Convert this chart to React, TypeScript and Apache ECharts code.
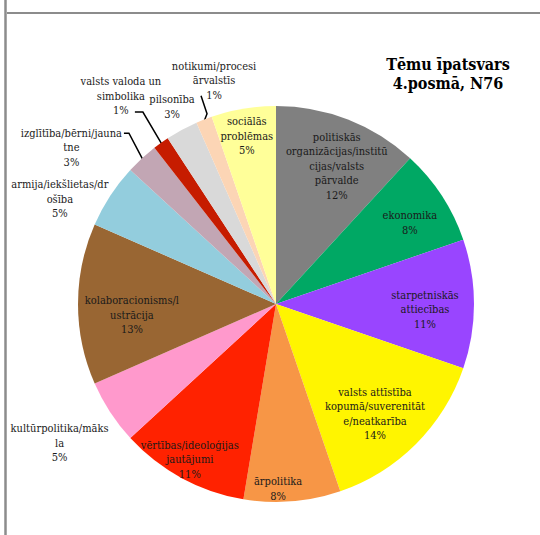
import React, { useEffect, useRef } from 'react';
import * as echarts from 'echarts';

const categories = [
  'politiskās organizācijas/institūcijas/valsts pārvalde',
  'ekonomika',
  'starpetniskās attiecības',
  'valsts attīstība kopumā/suverenitāte/neatkarība',
  'ārpolitika',
  'vērtības/ideoloģijas jautājumi',
  'kultūrpolitika/māksla',
  'kolaboracionisms/ilustrācija',
  'armija/iekšlietas/drošība',
  'izglītība/bērni/jaunatne',
  'valsts valoda un simbolika',
  'pilsonība',
  'notikumi/procesi ārvalstīs',
  'sociālās problēmas',
];
const counts = [9, 6, 8, 11, 6, 8, 4, 10, 4, 2, 1, 2, 1, 4];

const labelTexts = [
  'politiskās\norganizācijas/institū\ncijas/valsts\npārvalde',
  'ekonomika',
  'starpetniskās\nattiecības',
  'valsts attīstība\nkopumā/suverenitāt\ne/neatkarība',
  'ārpolitika',
  'vērtības/ideoloģijas\njautājumi',
  'kultūrpolitika/māks\nla',
  'kolaboracionisms/l\nustrācija',
  'armija/iekšlietas/dr\nošība',
  'izglītība/bērni/jauna\ntne',
  'valsts valoda un\nsimbolika',
  'pilsonība',
  'notikumi/procesi\nārvalstīs',
  'sociālās\nproblēmas',
];

const titleLines = ['Tēmu īpatsvars', '4.posmā, N76'];

const colors = [
  '#808080', '#00A864', '#9945FF', '#FFF500', '#F79646', '#FF2200', '#FF99CC',
  '#996633', '#93CDDD', '#C2A6B4', '#C61C00', '#D9D9D9', '#FCD5B5', '#FFFF99',
];

const labelRadius = [0.76, 0.79, 0.753, 0.747, 0.934, 0.9, 1.3, 0.73, 1.213, 1.3, 1.31, 1.125, 1.17, 0.86];
const labelShift = [2.5, 2, 2.3, 3, 4.1, 0.5, 0.4, -4.4, -7.3, -10, -1.2, 0.6, 5.8, -0.4];
const leaderEnd: (number[] | null)[] = [null, null, null, null, null, null, null, null, null, [52.5, -14.5], [14, 16], null, [-13, 15], null];
const leaderElbow: (number[] | null)[] = [null, null, null, null, null, null, null, null, null, [5, 0], [8, 0], null, [6, 18], null];

const CX = 276;
const CY = 304;
const R = 198;
const FONT = 'DejaVu Serif Condensed';

export default function App() {
  const ref = useRef<HTMLDivElement>(null);
  useEffect(() => {
    const chart = echarts.init(ref.current!, null, { renderer: 'svg' });
    const total = counts.reduce((a, b) => a + b, 0);
    const mids: number[] = [];
    let acc = 0;
    counts.forEach((c) => {
      mids.push(((acc + c / 2) / total) * 360);
      acc += c;
    });
    const polar = (deg: number, r: number) => {
      const a = (deg * Math.PI) / 180;
      return [CX + r * Math.sin(a), CY - r * Math.cos(a)];
    };

    chart.setOption({
      animation: false,
      textStyle: { fontFamily: FONT },
      graphic: [
        {
          type: 'line',
          shape: { x1: 5.5, y1: 0, x2: 5.5, y2: 535 },
          style: { stroke: '#8c8c8c', lineWidth: 2.5 },
          silent: true,
        },
        {
          type: 'line',
          shape: { x1: 7, y1: 13, x2: 540, y2: 13 },
          style: { stroke: '#8c8c8c', lineWidth: 2 },
          silent: true,
        },
        {
          type: 'text',
          x: 448,
          y: 73.5,
          style: {
            text: titleLines.join('\n'),
            font: 'bold 16px ' + FONT,
            lineHeight: 19,
            align: 'center',
            verticalAlign: 'middle',
            fill: '#000',
          },
        },
      ],
      series: [
        {
          type: 'pie',
          center: [CX, CY],
          radius: R,
          startAngle: 90,
          clockwise: true,
          avoidLabelOverlap: false,
          emphasis: { disabled: true },
          itemStyle: { borderWidth: 0 },
          label: {
            show: true,
            position: 'inside',
            formatter: (p: any) =>
              labelTexts[p.dataIndex] + '\n' + Math.round((p.value / total) * 100) + '%',
            fontFamily: FONT,
            fontSize: 11,
            lineHeight: 14.5,
            color: '#1a1a1a',
            textBorderWidth: 0,
            align: 'center',
          },
          labelLine: { show: false },
          labelLayout: (p: any) => {
            const i = p.dataIndex;
            const [x, y] = polar(mids[i] + labelShift[i], R * labelRadius[i]);
            const res: any = { x, y, align: 'center', verticalAlign: 'middle' };
            const e = leaderEnd[i];
            const b = leaderElbow[i];
            if (e && b) {
              const ex = x + e[0];
              const ey = y + e[1];
              res.labelLinePoints = [polar(mids[i], R - 1), [ex + b[0], ey + b[1]], [ex, ey]];
            }
            return res;
          },
          data: categories.map((name, i) => {
            const item: any = { name, value: counts[i], itemStyle: { color: colors[i] } };
            if (leaderEnd[i]) {
              item.label = { position: 'outside', alignTo: 'none' };
              item.labelLine = { show: true, lineStyle: { color: '#000', width: 1.5 } };
            }
            return item;
          }),
        },
      ],
    });
    return () => chart.dispose();
  }, []);
  return (
    <div
      ref={ref}
      style={{ position: 'fixed', left: 0, top: 0, width: 540, height: 535, background: '#fff' }}
    />
  );
}
